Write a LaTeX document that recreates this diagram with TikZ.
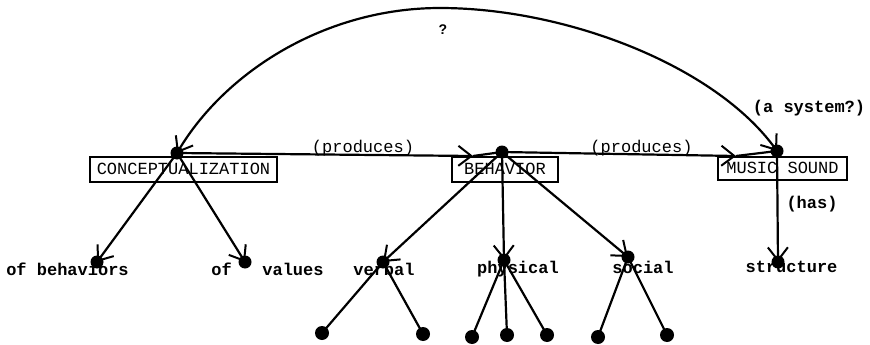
\documentclass[tikz,border=0pt]{standalone}
\usepackage{fontspec}
\setmonofont{Liberation Mono}
\setsansfont{Liberation Sans}
\usetikzlibrary{arrows.meta}
\begin{document}
\begin{tikzpicture}[x=1pt,y=-1pt,
  ln/.style={line width=2.2pt},
  tip/.tip={Straight Barb[length=13pt,width=20pt,line width=2pt]},
  arr/.style={ln,-tip},
  darr/.style={ln,tip-tip},
  blob/.style={circle,fill=black,inner sep=0pt,minimum size=13pt},
  box/.style={draw,line width=2pt,inner sep=0pt,font=\ttfamily\fontsize{17}{18}\selectfont},
  lab/.style={anchor=base,inner sep=0pt,font=\ttfamily\fontsize{17}{18}\selectfont},
  blab/.style={anchor=base,inner sep=0pt,font=\ttfamily\bfseries\fontsize{17}{18}\selectfont}
]
\useasboundingbox (0,0) rectangle (870,345);
% boxes
\node[box,minimum width=187pt,minimum height=25pt] (conc) at (183.5,169) {CONCEPTUALIZATION};
\node[box,minimum width=106pt,minimum height=25pt] (beh) at (505,169) {BEHAVIOR};
\node[box,minimum width=129pt,minimum height=23pt] (mus) at (782.5,168) {MUSIC SOUND};
% labels
\node[lab] (p1) at (363,152) {(produces)};
\node[lab] (p2) at (641.5,152) {(produces)};
\node[blab] (sys) at (809,112) {(a system?)};
\node[blab] (has) at (812,208) {(has)};
\node[font=\sffamily\bfseries\fontsize{14}{15}\selectfont,inner sep=0pt] (q) at (443,30) {?};
\node[blab] (tob) at (67.5,275) {of behaviors};
\node[blab] (tov) at (267.5,275) {of~~~values};
\node[blab] (tve) at (384,275) {verbal};
\node[blab] (tph) at (518,273) {physical};
\node[blab] (tso) at (643,273) {social};
\node[blab] (tst) at (791.5,272) {structure};
% coordinates
\coordinate (cb) at (177,153);
\coordinate (bb) at (502,152);
\coordinate (mb) at (777,151);
\coordinate (ob) at (97,262);
\coordinate (ov) at (245,262);
\coordinate (vb) at (383,262);
\coordinate (pb) at (504,260);
\coordinate (sb) at (628,257);
\coordinate (stb) at (778,262);
\coordinate (t1) at (473,156);
\coordinate (t2) at (736,156);
\coordinate (l1) at (322,333);
\coordinate (l2) at (423,334);
\coordinate (l3) at (472,337);
\coordinate (l4) at (507,335);
\coordinate (l5) at (547,335);
\coordinate (l6) at (598,337);
\coordinate (l7) at (667,335);
% connectors
\draw[arr] (cb) -- (t1);
\draw[ln] (t1) -- (bb);
\draw[arr] (bb) -- (t2);
\draw[ln] (t2) -- (mb);
\draw[darr] (mb) .. controls (715,65) and (565,8) .. (440,8) .. controls (325,8) and (225,72) .. (cb);
\draw[arr] (cb) -- (ob);
\draw[arr] (cb) -- (ov);
\draw[arr] (bb) -- (vb);
\draw[arr] (bb) -- (pb);
\draw[arr] (bb) -- (sb);
\draw[arr] (mb) -- (stb);
\draw[ln] (vb) -- (l1);
\draw[ln] (vb) -- (l2);
\draw[ln] (pb) -- (l3);
\draw[ln] (pb) -- (l4);
\draw[ln] (pb) -- (l5);
\draw[ln] (sb) -- (l6);
\draw[ln] (sb) -- (l7);
% blobs
\foreach \c in {cb,bb,mb,ob,ov,vb,pb,sb,stb}{\node[blob] at (\c) {};}
\foreach \c in {l1,l2,l3,l4,l5,l6,l7}{\node[blob,minimum size=14pt] at (\c) {};}
\end{tikzpicture}
\end{document}
